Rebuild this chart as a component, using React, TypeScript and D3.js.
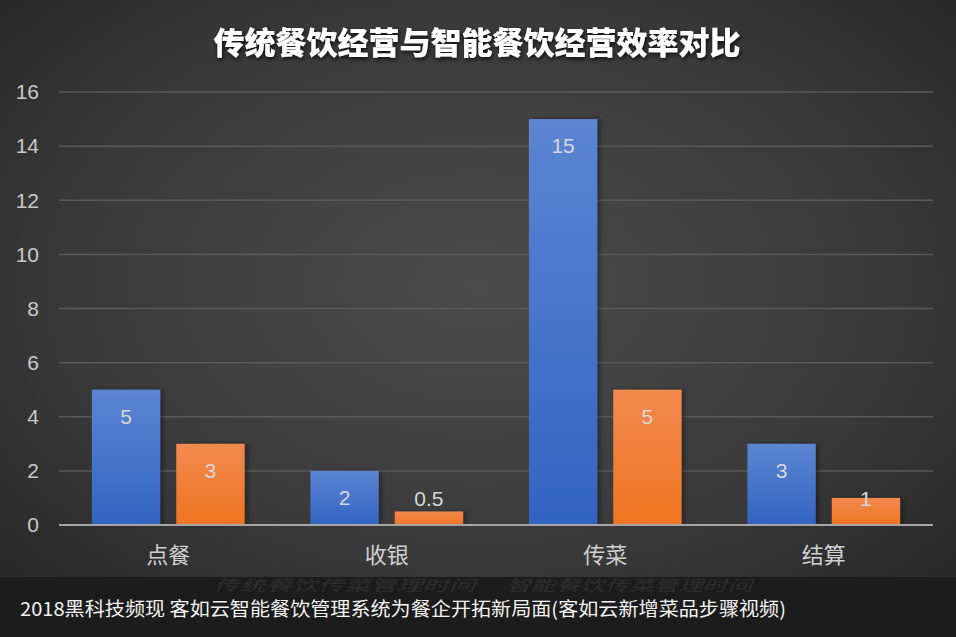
import React from "react";
import * as d3 from "d3";

const categories = ["点餐", "收银", "传菜", "结算"];
const traditional = [5, 2, 15, 3];
const smart = [3, 0.5, 5, 1];
const seriesNames = ["传统餐饮传菜管理时间", "智能餐饮传菜管理时间"];
const yTicks = [0, 2, 4, 6, 8, 10, 12, 14, 16];
const title = "传统餐饮经营与智能餐饮经营效率对比";
const caption = "2018黑科技频现  客如云智能餐饮管理系统为餐企开拓新局面(客如云新增菜品步骤视频)";

const W = 956;
const H = 637;
const FONT = "'Noto Sans CJK SC', 'Noto Sans', sans-serif";
const NUMFONT = "'Liberation Sans', Arial, sans-serif";

export default function App() {
  const x = d3.scaleBand<string>().domain(categories).range([59, 933]).paddingInner(0).paddingOuter(0);
  const y = d3.scaleLinear().domain([0, 16]).range([525, 92]);
  const inner = d3.scaleBand<number>().domain([0, 1]).range([0, x.bandwidth()]).paddingInner(0.19).paddingOuter(0.39);
  const series = [
    { values: traditional, grad: "gBlue" },
    { values: smart, grad: "gOrange" },
  ];
  return (
    <svg width={W} height={H} style={{ position: "absolute", left: 0, top: 0 }}>
      <defs>
        <radialGradient id="bg" cx="0.5" cy="0.45" r="0.7">
          <stop offset="0" stopColor="#4b4b4b" />
          <stop offset="0.6" stopColor="#3a3a3a" />
          <stop offset="1" stopColor="#262626" />
        </radialGradient>
        <linearGradient id="gBlue" x1="0" y1="0" x2="0" y2="1">
          <stop offset="0" stopColor="#5c85d2" />
          <stop offset="1" stopColor="#3264c2" />
        </linearGradient>
        <linearGradient id="gOrange" x1="0" y1="0" x2="0" y2="1">
          <stop offset="0" stopColor="#f38a50" />
          <stop offset="1" stopColor="#ee7420" />
        </linearGradient>
        <filter id="tshadow" x="-10%" y="-30%" width="120%" height="160%">
          <feDropShadow dx="1" dy="2" stdDeviation="2" floodColor="#000" floodOpacity="0.8" />
        </filter>
        <filter id="bshadow" x="-20%" y="-5%" width="140%" height="110%">
          <feDropShadow dx="3" dy="0" stdDeviation="2" floodColor="#000" floodOpacity="0.35" />
        </filter>
      </defs>
      <rect x={0} y={0} width={W} height={H} fill="url(#bg)" />
      <text x={477} y={54} textAnchor="middle" fill="#ffffff" fontFamily={FONT} fontWeight={900} fontSize={31} filter="url(#tshadow)">
        {title}
      </text>
      {yTicks.map((t) => (
        <g key={t}>
          {t !== 0 && <line x1={59} x2={933} y1={y(t)} y2={y(t)} stroke="#5a5a5a" strokeWidth={1.5} />}
          <text x={39} y={y(t)} dy="0.35em" textAnchor="end" fill="#c9c9c9" fontFamily={NUMFONT} fontSize={21}>
            {t}
          </text>
        </g>
      ))}
      {series.map((s, si) =>
        s.values.map((v, i) => {
          const bx = (x(categories[i]) as number) + (inner(si) as number);
          const bw = inner.bandwidth();
          const top = y(v);
          const ly = Math.min(top + 27, 499);
          return (
            <g key={`${si}-${i}`}>
              <rect x={bx} y={top} width={bw} height={y(0) - top} fill={`url(#${s.grad})`} filter="url(#bshadow)" />
              <text x={bx + bw / 2} y={ly} dy="0.35em" textAnchor="middle" fill="#d8d8d8" fontFamily={NUMFONT} fontSize={21}>
                {v}
              </text>
            </g>
          );
        })
      )}
      <line x1={59} x2={933} y1={y(0)} y2={y(0)} stroke="#a6a6a6" strokeWidth={2} />
      {categories.map((c) => (
        <text key={c} x={(x(c) as number) + x.bandwidth() / 2} y={555} dy="0.35em" textAnchor="middle" fill="#d0d0d0" fontFamily={FONT} fontSize={22}>
          {c}
        </text>
      ))}
      <rect x={0} y={577} width={W} height={60} fill="#1c1c1c" />
      <text x={213} y={586} dy="0.35em" fill="#2e2e2e" fontFamily={FONT} fontSize={15} fontStyle="italic" textLength={262} lengthAdjust="spacingAndGlyphs">
        {seriesNames[0]}
      </text>
      <text x={506} y={586} dy="0.35em" fill="#2e2e2e" fontFamily={FONT} fontSize={15} fontStyle="italic" textLength={246} lengthAdjust="spacingAndGlyphs">
        {seriesNames[1]}
      </text>
      <text x={20} y={609} dy="0.35em" fill="#f2f2f2" fontFamily={FONT} fontSize={19} textLength={766} lengthAdjust="spacingAndGlyphs">
        {caption}
      </text>
    </svg>
  );
}
